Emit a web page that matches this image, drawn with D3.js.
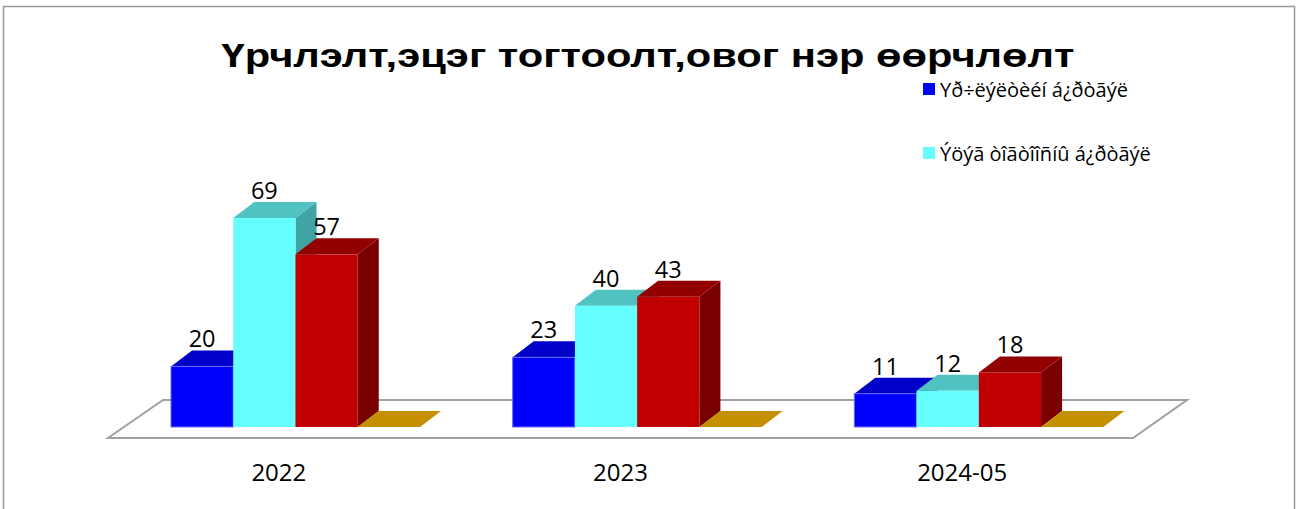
<!DOCTYPE html>
<html>
<head>
<meta charset="utf-8">
<script src="https://cdn.jsdelivr.net/npm/d3@7"></script>
<style>
  body { margin: 0; background: #fff; }
  svg { display: block; }
</style>
</head>
<body>
<script>
// chart data
const categories = ["2022", "2023", "2024-05"];
const seriesNames = ["Yð÷ëýëòèéí á¿ðòãýë", "Ýöýã òîãòîîñíû á¿ðòãýë", "Series 3", "Series 4"];
const legendNames = ["Yð÷ëýëòèéí á¿ðòãýë", "Ýöýã òîãòîîñíû á¿ðòãýë"];
const series1 = [20, 23, 11];
const series2 = [69, 40, 12];
const series3 = [57, 43, 18];
const series4 = [0, 0, 0];
const titleText = "Үрчлэлт,эцэг тогтоолт,овог нэр өөрчлөлт";

const allSeries = [series1, series2, series3, series4];

// face colours per series: front, top, side
const colors = [
  { front: "#0000FF", top: "#0000C8", side: "#0000A0", stroke: "#6A6AFF" },
  { front: "#66FFFF", top: "#50C2C2", side: "#40A4A4", stroke: "none" },
  { front: "#C00000", top: "#930000", side: "#780000", stroke: "none" },
  { front: "#FFC000", top: "#C49000", side: "#A07800", stroke: "none" }
];

const width = 1300, height = 509;

const svg = d3.select("body").append("svg")
    .attr("width", width)
    .attr("height", height);

// outer frame
svg.append("rect")
    .attr("x", 3.5).attr("y", 6.5)
    .attr("width", 1291).attr("height", 520)
    .attr("fill", "#fff")
    .attr("stroke", "#999").attr("stroke-width", 1.5);

// title - stretched to the reference width
svg.append("text")
    .attr("x", 648).attr("y", 67)
    .attr("text-anchor", "middle")
    .attr("font-family", "Liberation Sans, Arial, sans-serif")
    .attr("font-weight", "bold")
    .attr("font-size", 34)
    .attr("fill", "#000")
    .attr("textLength", 853)
    .attr("lengthAdjust", "spacingAndGlyphs")
    .text(titleText);

// scales
const floorLeft = 108, floorRight = 1133, floorFront = 438;
const floorDx = 55, floorDy = -38;
const x0 = d3.scaleBand().domain(categories).range([floorLeft, floorRight]).padding(0);
const x1 = d3.scaleBand().domain(seriesNames).range([63, 312]).padding(0);
const y = d3.scaleLinear().domain([0, 70]).range([427, 215]);
const depthX = 21, depthY = -16;

// floor
const floorPts = [
  [floorLeft, floorFront],
  [floorLeft + floorDx, floorFront + floorDy],
  [floorRight + floorDx - 1, floorFront + floorDy],
  [floorRight, floorFront]
];
svg.append("path")
    .attr("d", d3.line()(floorPts) + "Z")
    .attr("fill", "#fff")
    .attr("stroke", "#a0a0a0")
    .attr("stroke-width", 2);

// bars
const barsG = svg.append("g");
categories.forEach((cat, ci) => {
  allSeries.forEach((vals, si) => {
    const v = vals[ci];
    const x = x0(cat) + x1(seriesNames[si]);
    const w = x1.bandwidth();
    const yb = y(0), yt = y(v);
    const c = colors[si];
    const g = barsG.append("g");
    // side face
    g.append("path")
      .attr("d", d3.line()([[x + w, yt], [x + w + depthX, yt + depthY], [x + w + depthX, yb + depthY], [x + w, yb]]) + "Z")
      .attr("fill", c.side);
    // top face
    g.append("path")
      .attr("d", d3.line()([[x, yt], [x + depthX, yt + depthY], [x + w + depthX, yt + depthY], [x + w, yt]]) + "Z")
      .attr("fill", c.top);
    // front face
    if (v > 0) {
      g.append("rect")
        .attr("x", x).attr("y", yt)
        .attr("width", w).attr("height", yb - yt)
        .attr("fill", c.front)
        .attr("stroke", c.stroke)
        .attr("stroke-width", c.stroke === "none" ? 0 : 1);
    }
  });
});

// value labels
categories.forEach((cat, ci) => {
  allSeries.forEach((vals, si) => {
    const v = vals[ci];
    if (v === 0) return;
    const x = x0(cat) + x1(seriesNames[si]) + x1.bandwidth() / 2;
    svg.append("text")
      .attr("x", x)
      .attr("y", y(v) + depthY - 3)
      .attr("text-anchor", "middle")
      .attr("font-family", "Open Sans, sans-serif")
      .attr("font-size", 23.5)
      .attr("fill", "#000")
      .text(v);
  });
});

// category axis labels
const xAxis = d3.axisBottom(x0).tickSize(0).tickPadding(0);
const axisG = svg.append("g")
    .attr("transform", `translate(0, ${floorFront})`)
    .call(xAxis);
axisG.select(".domain").remove();
axisG.selectAll("text")
    .attr("dy", null)
    .attr("y", 43)
    .attr("font-family", "Open Sans, sans-serif")
    .attr("font-size", 24)
    .attr("fill", "#000");

// legend (only the visible entries)
const legend = svg.append("g");
legendNames.forEach((name, i) => {
  const ly = 83 + i * 64;
  legend.append("rect")
    .attr("x", 923).attr("y", ly)
    .attr("width", 12).attr("height", 12)
    .attr("fill", colors[i].front);
  legend.append("text")
    .attr("x", 940).attr("y", ly + 14)
    .attr("font-family", "Open Sans, sans-serif")
    .attr("font-size", 20)
    .attr("fill", "#000")
    .text(name);
});
</script>
</body>
</html>
